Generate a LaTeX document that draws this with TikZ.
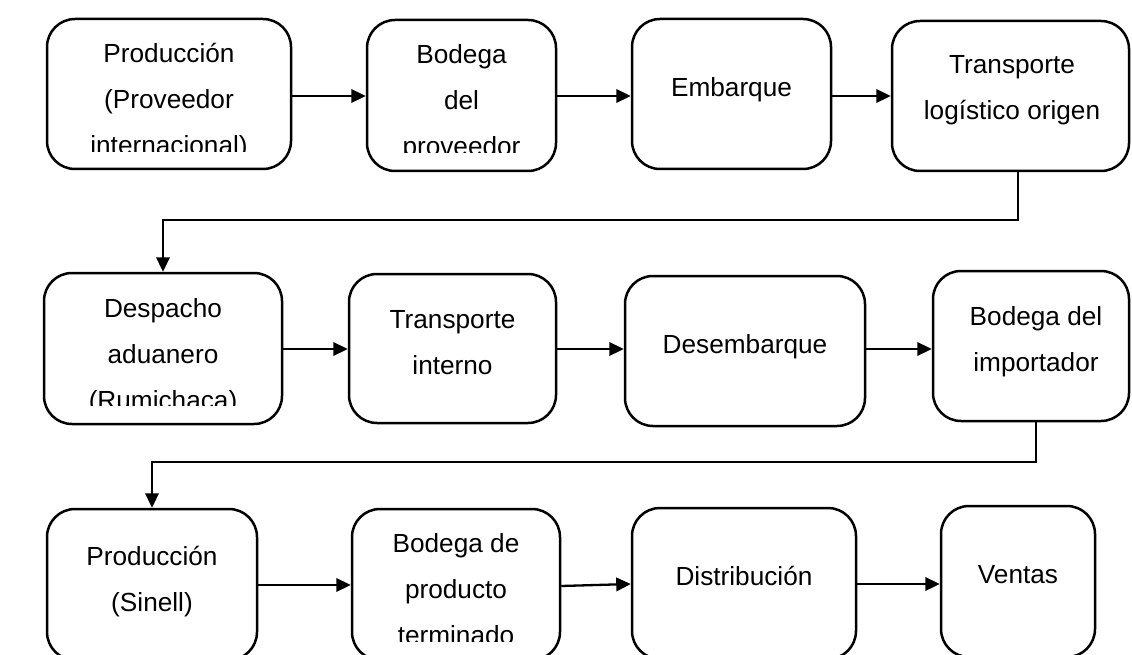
\documentclass[tikz,border=0pt]{standalone}
\usepackage{fontspec}
\setmainfont{Liberation Sans}
\usetikzlibrary{arrows.meta}
\tikzset{
  box/.style={draw, line width=2.5pt, rounded corners=28pt, inner sep=0pt, rectangle},
  lbl/.style={inner sep=0pt, align=center, anchor=base, font=\fontsize{26.2}{46}\selectfont},
  arr/.style={line width=2.3pt, -{Triangle[length=14.5pt,width=13.5pt]}}
}
\begin{document}
\begin{tikzpicture}[x=1pt,y=-1pt]
\clip (0,0) rectangle (1132,655);
\fill[white] (0,0) rectangle (1132,655);
% row 1
\node[box, minimum width=244pt, minimum height=150pt] (b1) at (169,94) {};
\node[box, minimum width=189pt, minimum height=151pt] (b2) at (461.5,95.5) {};
\node[box, minimum width=199pt, minimum height=150pt] (b3) at (731.5,94) {};
\node[box, minimum width=237pt, minimum height=150pt] (b4) at (1010.5,96) {};
% row 2
\node[box, minimum width=238pt, minimum height=151pt] (b5) at (163,348.5) {};
\node[box, minimum width=207pt, minimum height=149pt] (b6) at (452.5,348.5) {};
\node[box, minimum width=240pt, minimum height=150pt] (b7) at (745,351) {};
\node[box, minimum width=196pt, minimum height=150pt] (b8) at (1031,346) {};
% row 3
\node[box, minimum width=210pt, minimum height=151pt] (b9) at (152,584.5) {};
\node[box, minimum width=208pt, minimum height=151pt] (b10) at (456,584.5) {};
\node[box, minimum width=224pt, minimum height=151pt] (b11) at (744,583.5) {};
\node[box, minimum width=154pt, minimum height=151pt] (b12) at (1018,581.5) {};
% labels (anchor = baseline of last line)
\begin{scope}
\clip (50,22) rectangle (288,152);
\node[lbl] (t1) at (169,155) {Producción\\(Proveedor\\internacional)};
\end{scope}
\begin{scope}
\clip (370,22) rectangle (553,153);
\node[lbl] (t2) at (461.5,156) {Bodega\\del\\proveedor};
\end{scope}
\node[lbl] (t3) at (731.5,97) {Embarque};
\node[lbl] (t4) at (1012,120) {Transporte\\logístico origen};
\begin{scope}
\clip (47,276) rectangle (279,405);
\node[lbl] (t5) at (163,409) {Despacho\\aduanero\\(Rumichaca)};
\end{scope}
\node[lbl] (t6) at (452.5,374) {Transporte\\interno};
\node[lbl] (t7) at (745,353) {Desembarque};
\node[lbl] (t8) at (1036,371) {Bodega del\\importador};
\node[lbl] (t9) at (152,611) {Producción\\(Sinell)};
\begin{scope}
\clip (355,512) rectangle (557,641);
\node[lbl] (t10) at (456,644) {Bodega de\\producto\\terminado};
\end{scope}
\node[lbl] (t11) at (744,585) {Distribución};
\node[lbl] (t12) at (1018,583) {Ventas};
% helper coordinates
\coordinate (ya) at (0,96);
\coordinate (yb) at (0,349);
\coordinate (yc) at (0,585);
\coordinate (yd) at (0,586);
\coordinate (ye) at (0,584);
\coordinate (c1) at (1018,220);
\coordinate (c2) at (1036,462);
% connectors row 1
\draw[arr] (b1.east |- ya) -- (b2.west |- ya);
\draw[arr] (b2.east |- ya) -- (b3.west |- ya);
\draw[arr] (b3.east |- ya) -- (b4.west |- ya);
\draw[arr] (b4.south -| c1) -- (c1) -| (b5.north);
% row 2
\draw[arr] (b5.east |- yb) -- (b6.west |- yb);
\draw[arr] (b6.east |- yb) -- (b7.west |- yb);
\draw[arr] (b7.east |- yb) -- (b8.west |- yb);
\draw[arr] (b8.south -| c2) -- (c2) -| (b9.north);
% row 3
\draw[arr] (b9.east |- yc) -- (b10.west |- yc);
\draw[arr] (b10.east |- yd) -- (b11.west |- ye);
\draw[arr] (b11.east |- ye) -- (b12.west |- ye);
\end{tikzpicture}
\end{document}
